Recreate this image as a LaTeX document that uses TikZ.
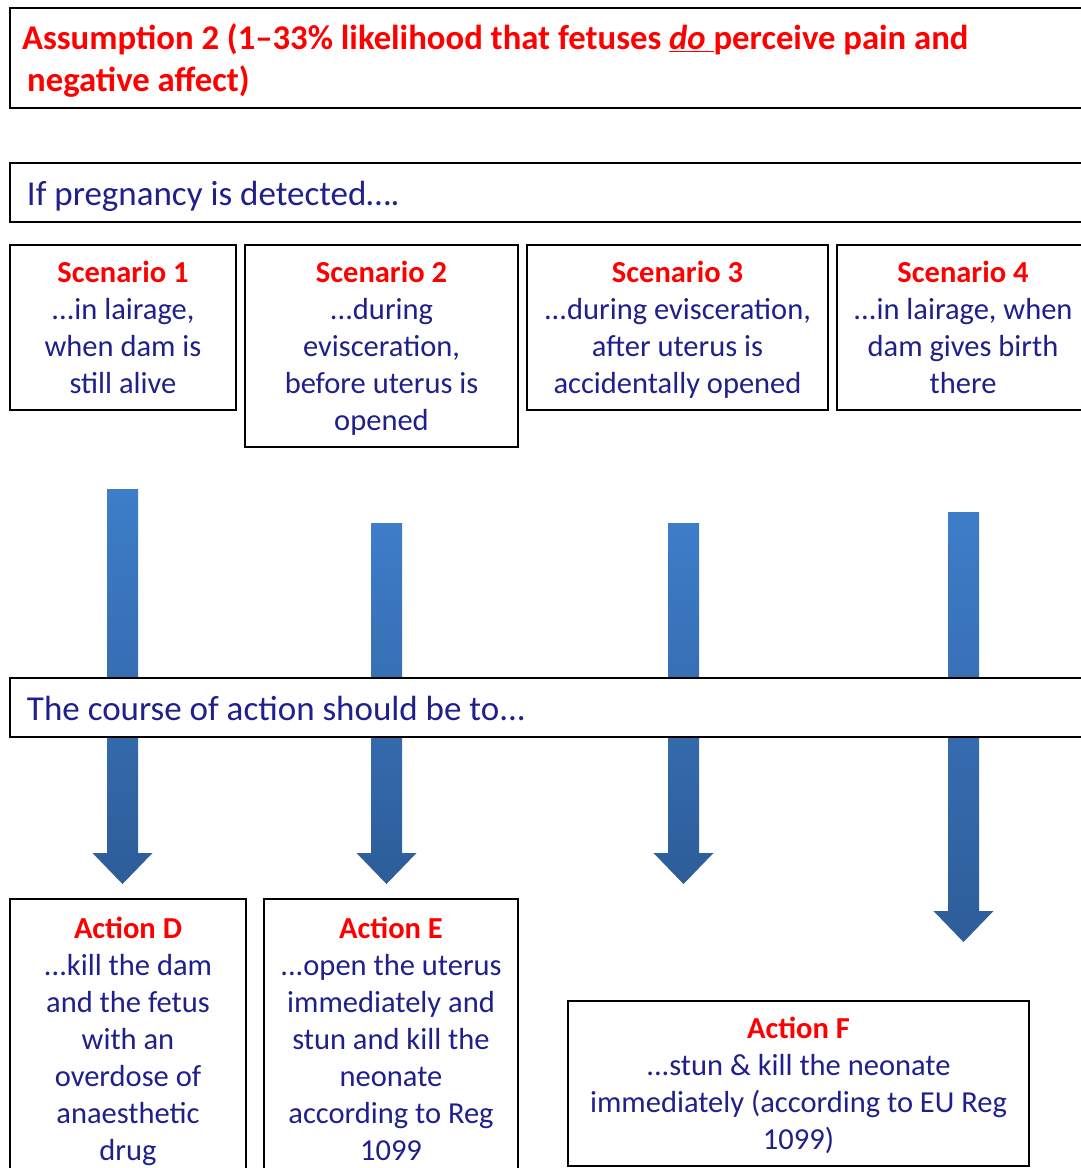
\documentclass[tikz,border=0pt]{standalone}
\usepackage{fontspec}
\setmainfont{Carlito}
\usetikzlibrary{positioning, calc}
\definecolor{headred}{RGB}{255,0,0}
\definecolor{bodyblue}{RGB}{32,32,140}
\definecolor{arrowtop}{RGB}{62,125,201}
\definecolor{arrowbot}{RGB}{45,93,153}

% red heading line of a box, with a fixed height
\newcommand{\boxhead}[1]{\rule{0pt}{26pt}{\bfseries\color{headred}#1}}

% fat shaded down arrow from #1 (top) to #2 (tip)
\newcommand{\fatarrow}[2]{%
  \shade[top color=arrowtop, bottom color=arrowbot]
    ($(#1)+(-15.5,0)$) -- ($(#2)+(-15.5,-31)$) -- ($(#2)+(-30,-31)$) -- (#2)
    -- ($(#2)+(30,-31)$) -- ($(#2)+(15.5,-31)$) -- ($(#1)+(15.5,0)$) -- cycle;}

\begin{document}
\begin{tikzpicture}[x=1pt, y=-1pt,
    box/.style={draw, line width=1.3pt, fill=white, inner sep=0pt, outer sep=0pt, align=center,
      text=bodyblue, font=\fontsize{30.5}{37}\selectfont},
    linebox/.style={box, anchor=north west, execute at end node={\rule[-6pt]{0pt}{6pt}}},
    bar/.style={box, anchor=north west, align=flush left, inner xsep=17pt, inner ysep=0pt,
      text height=25pt, text depth=0pt,
      minimum height=59pt, text width=1051pt, font=\fontsize{35}{37}\selectfont}]
  \clip (0,0) rectangle (1081,1168);
  \fill[white] (0,0) rectangle (1081,1168);

  % arrows first, boxes go over them
  \coordinate (a1s) at (122.5,489);  \coordinate (a1e) at (122.5,884);
  \coordinate (a2s) at (386.5,523);  \coordinate (a2e) at (386.5,884);
  \coordinate (a3s) at (683.5,523);  \coordinate (a3e) at (683.5,884);
  \coordinate (a4s) at (963.5,512);  \coordinate (a4e) at (963.5,942);
  \fatarrow{a1s}{a1e}
  \fatarrow{a2s}{a2e}
  \fatarrow{a3s}{a3e}
  \fatarrow{a4s}{a4e}

  \node (title) [box, anchor=north west, align=flush left, inner xsep=12pt, text width=1066pt,
      minimum height=100pt, text=headred, font=\fontsize{34.7}{42}\selectfont\bfseries,
      execute at begin node={\rule{0pt}{30pt}}]
      at (10,8) {Assumption 2 (1--33\% likelihood that fetuses \underline{\textit{do}~}perceive pain and\\
      \hspace*{0.15em}negative affect)};

  \node (detect) [bar] at (10,163) {If pregnancy is detected\ldots.};

  \node (s1) [linebox, minimum width=226pt, minimum height=165pt] at (10,245)
      {\boxhead{Scenario 1}\\...in lairage,\\when dam is\\still alive};
  \node (s2) [linebox, right=9pt of s1.north east, anchor=north west, minimum width=273pt, minimum height=202pt]
      {\boxhead{Scenario 2}\\...during\\evisceration,\\before uterus is\\opened};
  \node (s3) [linebox, right=9pt of s2.north east, anchor=north west, minimum width=301pt, minimum height=165pt]
      {\boxhead{Scenario 3}\\...during evisceration,\\after uterus is\\accidentally opened};
  \node (s4) [linebox, right=9pt of s3.north east, anchor=north west, minimum width=252pt, minimum height=165pt]
      {\boxhead{Scenario 4}\\...in lairage, when\\dam gives birth\\there};

  \node (course) [bar] at (10,678) {The course of action should be to...};

  \node (aD) [linebox, minimum width=236pt, minimum height=280pt] at (10,899)
      {\boxhead{Action D}\\...kill the dam\\and the fetus\\with an\\overdose of\\anaesthetic\\drug};
  \node (aE) [linebox, right=18pt of aD.north east, anchor=north west, minimum width=254pt, minimum height=280pt]
      {\boxhead{Action E}\\...open the uterus\\immediately and\\stun and kill the\\neonate\\according to Reg\\1099};
  \node (aF) [linebox, minimum width=461pt, minimum height=165pt] at (568,1001)
      {\boxhead{Action F}\\...stun \& kill the neonate\\immediately (according to EU Reg\\1099)};
\end{tikzpicture}
\end{document}
